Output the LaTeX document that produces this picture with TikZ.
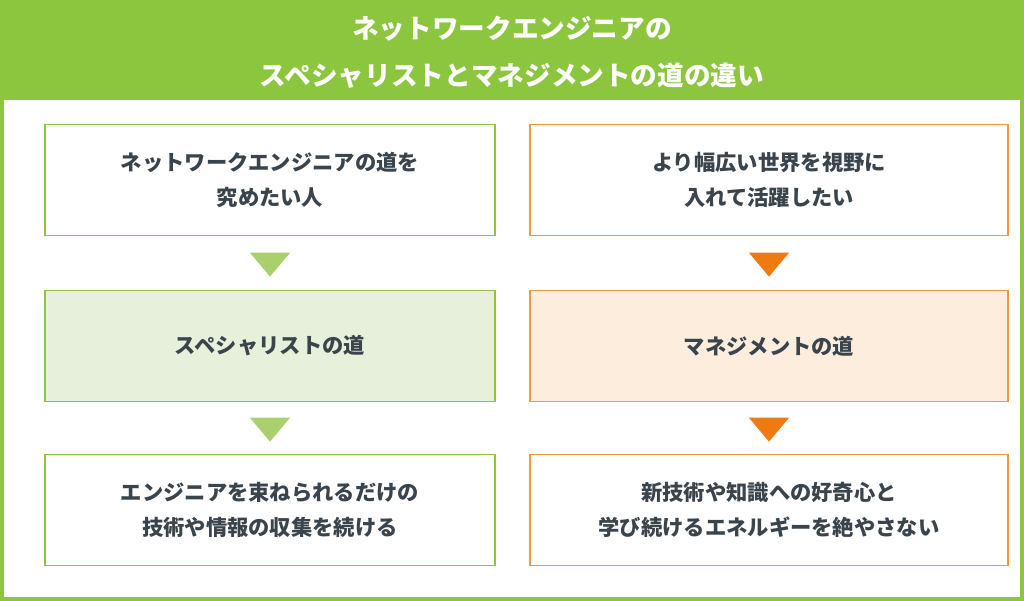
\documentclass[tikz,border=0pt]{standalone}
\usepackage{fontspec}
\usetikzlibrary{shapes.geometric}
\setmainfont{Noto Sans CJK JP}
\definecolor{hdgreen}{HTML}{8CC63F}
\definecolor{lgreen}{HTML}{E7F0DA}
\definecolor{trigreen}{HTML}{A9D06C}
\definecolor{orng}{HTML}{F39A3C}
\definecolor{torng}{HTML}{F07A12}
\definecolor{lorng}{HTML}{FDEDDC}
\definecolor{ink}{HTML}{3A444C}
\begin{document}
\begin{tikzpicture}[x=0.0264cm,y=-0.0264cm,
        gbox/.style={draw=hdgreen,line width=1.2pt,minimum width=450*0.0264cm,minimum height=111*0.0264cm,align=center,text=ink,font=\bfseries\fontsize{16}{26}\selectfont},
        obox/.style={gbox,draw=orng,minimum width=478*0.0264cm},
        tri/.style={isosceles triangle,shape border rotate=-90,isosceles triangle apex angle=80,inner sep=0pt,minimum height=24*0.0264cm,minimum width=30*0.0264cm,draw=none}
    ]
        % Frame and header
        \useasboundingbox (0,0) rectangle (1024,601);
        \fill[hdgreen] (0,0) rectangle (1024,601);
        \fill[white] (4,100) rectangle (1020,597);
        \node[text=white,align=center,font=\bfseries\fontsize{20}{35}\selectfont] (title) at (512,52)
            {ネットワークエンジニアの\\スペシャリストとマネジメントの道の違い};

        % Left column
        \node[gbox] (l1) at (270,180) {ネットワークエンジニアの道を\\究めたい人};
        \node[gbox,fill=lgreen] (l2) at (270,346) {スペシャリストの道};
        \node[gbox] (l3) at (270,510) {エンジニアを束ねられるだけの\\技術や情報の収集を続ける};
        \node[tri,fill=trigreen] (la) at (270,262) {};
        \node[tri,fill=trigreen] (lb) at (270,427) {};

        % Right column
        \node[obox] (r1) at (769,180) {より幅広い世界を視野に\\入れて活躍したい};
        \node[obox,fill=lorng] (r2) at (769,346) {マネジメントの道};
        \node[obox] (r3) at (769,510) {新技術や知識への好奇心と\\学び続けるエネルギーを絶やさない};
        \node[tri,fill=torng] (ra) at (769,262) {};
        \node[tri,fill=torng] (rb) at (769,427) {};
    \end{tikzpicture}
\end{document}
